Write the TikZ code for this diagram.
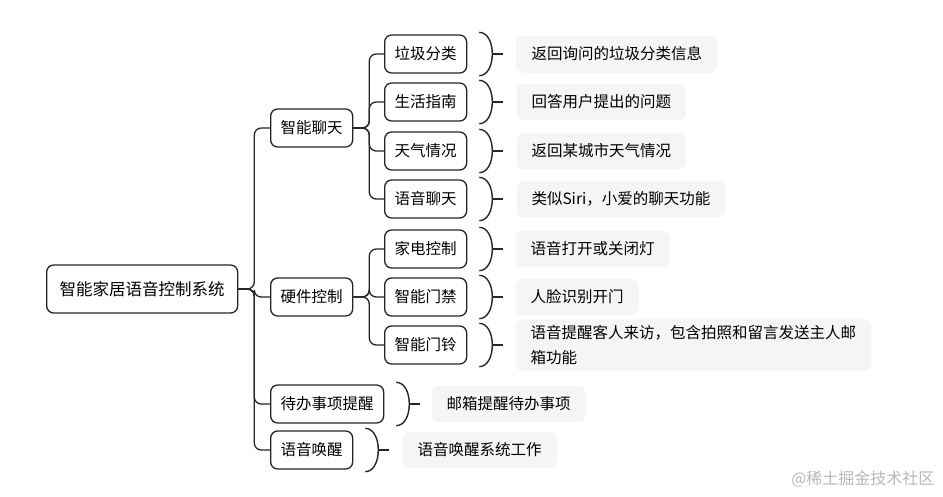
\documentclass[tikz,border=0pt]{standalone}
\usepackage{fontspec}
\setmainfont{Noto Sans CJK SC}
\usetikzlibrary{calc}

\tikzset{
 topic/.style={draw=black!85,line width=1.3pt,rounded corners=7pt,minimum height=38pt,
  inner xsep=10pt,anchor=west,font=\fontsize{15.5}{18}\selectfont},
 note/.style={fill=black!4,rounded corners=7pt,minimum height=36pt,inner xsep=15pt,
  inner ysep=6pt,anchor=west,align=left,font=\fontsize{15.5}{25}\selectfont},
 link/.style={line width=1.3pt,draw=black!85,rounded corners=7pt},
 bracket/.style={line width=1.4pt,draw=black!85},
}
% ")-" mark on the right of a node
\newcommand{\sidebrace}[1]{%
 \draw[bracket] ($(#1.north east)+(12,-2)$) .. controls +(8,0) and +(0,-12) .. ($(#1.east)+(25,0)$)
  .. controls +(0,12) and +(8,0) .. ($(#1.south east)+(12,2)$);
 \draw[bracket] ($(#1.east)+(25,0)$) -- +(11,0);
}

\begin{document}
\begin{tikzpicture}[x=1pt,y=-1pt]
 \useasboundingbox[fill=white] (0,0) rectangle (943,496);

 % root
 \node[topic,minimum height=48pt,inner xsep=13pt,font=\fontsize{16.5}{18}\selectfont] (root) at (46,289) {智能家居语音控制系统};

 % first level
 \node[topic] (chat) at (270,128) {智能聊天};
 \node[topic] (hw) at (270,297) {硬件控制};
 \node[topic] (todo) at (270,404) {待办事项提醒};
 \node[topic] (wake) at (270,450) {语音唤醒};
 \foreach \n in {chat,hw,todo,wake}
  \draw[link] (root.east) -- ++(16,0) |- (\n.west);

 % second level
 \node[topic] (rubbish) at (384,54) {垃圾分类};
 \node[topic] (guide) at (384,102) {生活指南};
 \node[topic] (weather) at (384,151) {天气情况};
 \node[topic] (talk) at (384,199) {语音聊天};
 \foreach \n in {rubbish,guide,weather,talk}
  \draw[link] (chat.east) -- ++(16,0) |- (\n.west);

 \node[topic] (light) at (384,249) {家电控制};
 \node[topic] (door) at (384,297) {智能门禁};
 \node[topic] (bell) at (384,345) {智能门铃};
 \foreach \n in {light,door,bell}
  \draw[link] (hw.east) -- ++(16,0) |- (\n.west);

 % notes
 \foreach \n in {rubbish,guide,weather,talk,light,door,bell,todo,wake}
  \sidebrace{\n}
 \node[note] (rubbishnote) at ([xshift=49]rubbish.east) {返回询问的垃圾分类信息};
 \node[note] (guidenote) at ([xshift=49]guide.east) {回答用户提出的问题};
 \node[note] (weathernote) at ([xshift=49]weather.east) {返回某城市天气情况};
 \node[note] (talknote) at ([xshift=49]talk.east) {类似Siri，小爱的聊天功能};
 \node[note] (lightnote) at ([xshift=48]light.east) {语音打开或关闭灯};
 \node[note] (doornote) at ([xshift=48]door.east) {人脸识别开门};
 \node[note] (bellnote) at ([xshift=48]bell.east) {语音提醒客人来访，包含拍照和留言发送主人邮\\箱功能};
 \node[note] (todonote) at ([xshift=47]todo.east) {邮箱提醒待办事项};
 \node[note] (wakenote) at ([xshift=49]wake.east) {语音唤醒系统工作};

 \node[anchor=east,text=black!28,font=\fontsize{16}{18}\selectfont] (mark) at (938,479) {@稀土掘金技术社区};
\end{tikzpicture}
\end{document}
